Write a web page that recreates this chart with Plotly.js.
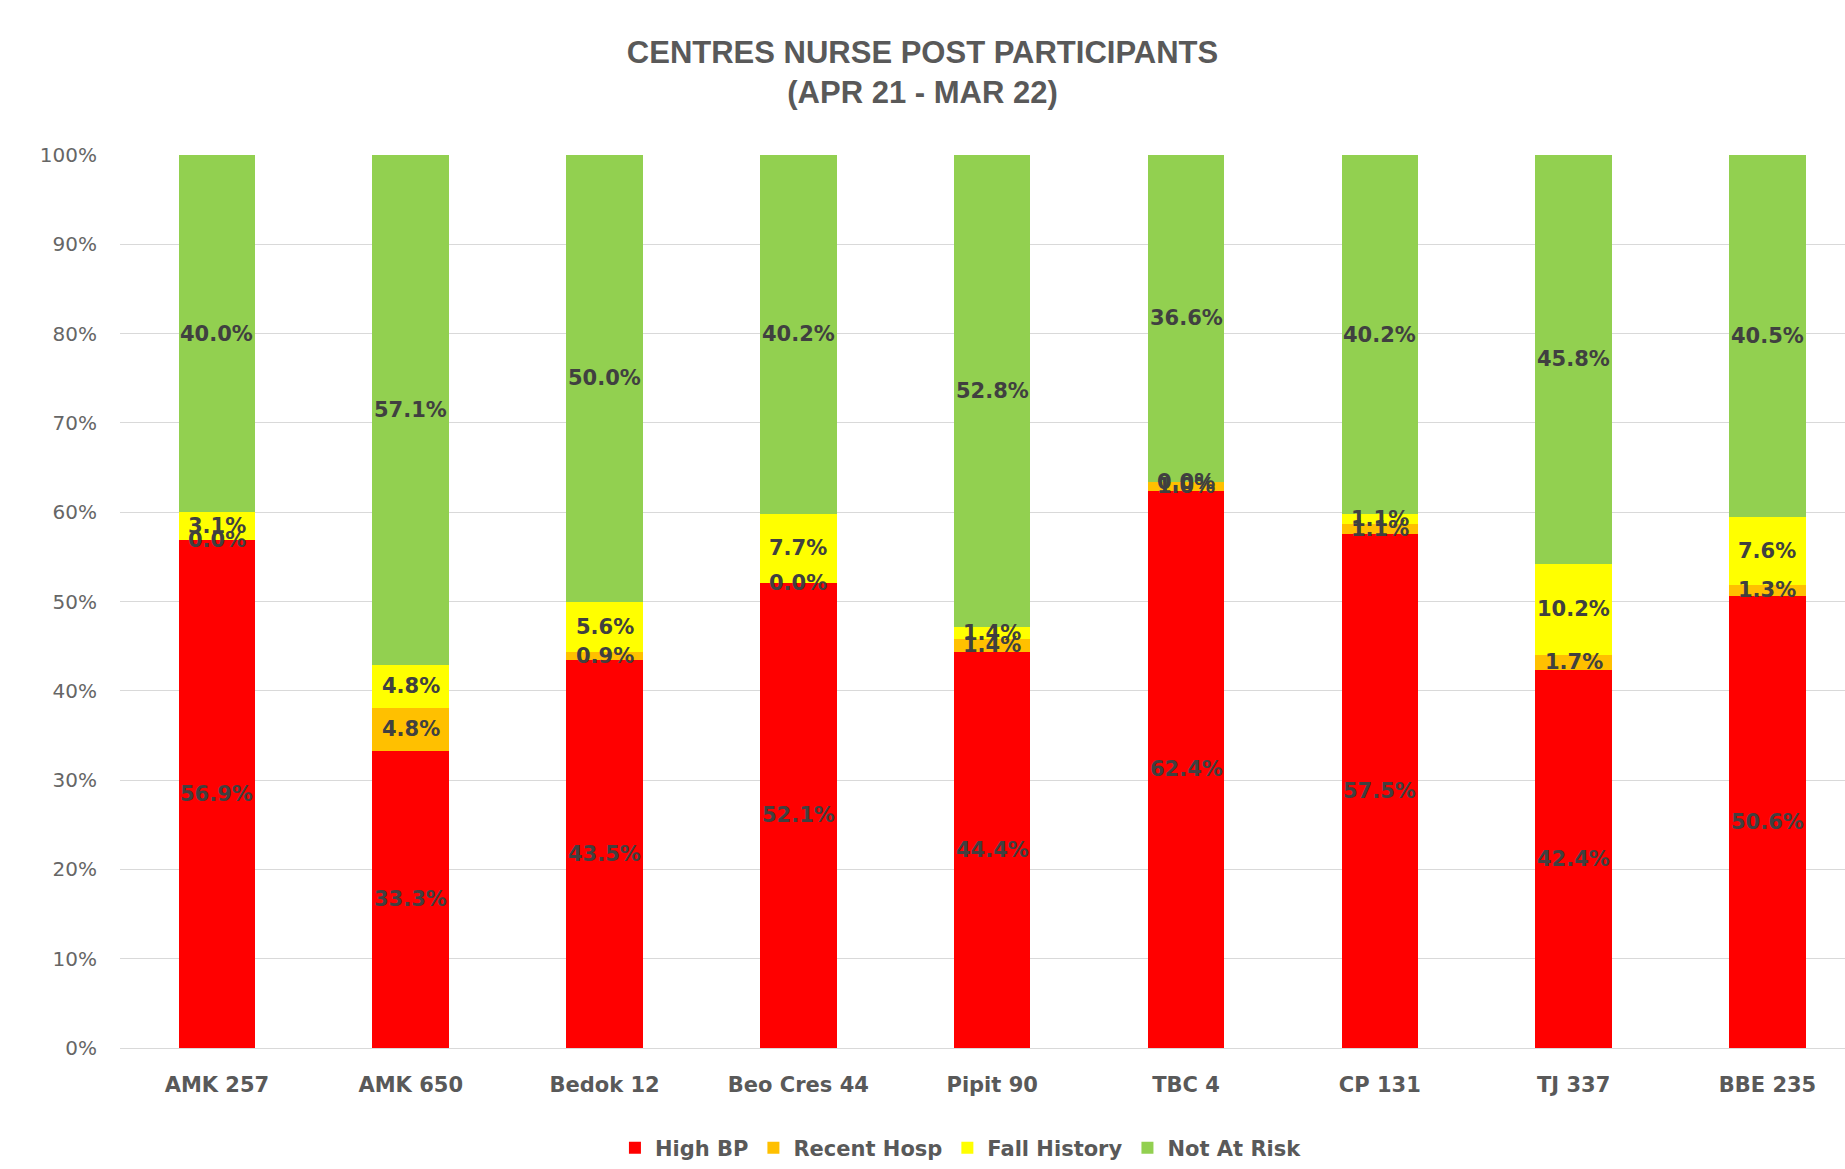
<!DOCTYPE html>
<html>
<head>
<meta charset="utf-8">
<script src="https://cdn.plot.ly/plotly-3.0.1.min.js"></script>
<style>html,body{margin:0;padding:0;background:#fff;}#chart{width:1845px;height:1169px;}</style>
</head>
<body>
<div id="chart"></div>
<script>
const centres = ["AMK 257", "AMK 650", "Bedok 12", "Beo Cres 44", "Pipit 90", "TBC 4", "CP 131", "TJ 337", "BBE 235"];
const highBP      = [56.9, 33.3, 43.5, 52.1, 44.4, 62.4, 57.5, 42.4, 50.6];
const recentHosp  = [0.0, 4.8, 0.9, 0.0, 1.4, 1.0, 1.1, 1.7, 1.3];
const fallHistory = [3.1, 4.8, 5.6, 7.7, 1.4, 0.0, 1.1, 10.2, 7.6];
const notAtRisk   = [40.0, 57.1, 50.0, 40.2, 52.8, 36.6, 40.2, 45.8, 40.5];
const seriesNames = ["High BP", "Recent Hosp", "Fall History", "Not At Risk"];
const yTickVals = [0, 10, 20, 30, 40, 50, 60, 70, 80, 90, 100];
const yTickText = ["0%", "10%", "20%", "30%", "40%", "50%", "60%", "70%", "80%", "90%", "100%"];

const colors = ["#FF0000", "#FFC000", "#FFFF00", "#92D050"];
const allSeries = [highBP, recentHosp, fallHistory, notAtRisk];

const traces = allSeries.map((vals, i) => ({
  type: "bar",
  name: seriesNames[i],
  x: centres,
  y: vals,
  marker: {color: colors[i], line: {width: 0}},
  hoverinfo: "skip"
}));

// Data labels centred in each stacked segment (100% stacked, so normalised)
const labelFont = {family: "DejaVu Sans", size: 21, color: "#404040", weight: "bold"};
const annotations = [];
centres.forEach((c, j) => {
  const total = allSeries.reduce((s, arr) => s + arr[j], 0);
  let cum = 0;
  allSeries.forEach((arr) => {
    const v = arr[j];
    const mid = (cum + v / 2) / total * 100;
    annotations.push({
      x: c, y: mid, xref: "x", yref: "y",
      text: "<b>" + v.toFixed(1) + "%</b>",
      showarrow: false,
      font: labelFont,
      xanchor: "center", yanchor: "middle"
    });
    cum += v;
  });
});

const layout = {
  width: 1845,
  height: 1169,
  barmode: "stack",
  barnorm: "percent",
  bargap: 0.605,
  paper_bgcolor: "#ffffff",
  plot_bgcolor: "#ffffff",
  margin: {l: 120, r: 0, t: 155, b: 121, pad: 0},
  annotations: annotations,
  title: {
    text: "<b>CENTRES NURSE POST PARTICIPANTS<br>(APR 21 - MAR 22)</b>",
    font: {family: "Liberation Sans Narrow, Arial Narrow, sans-serif", size: 31, color: "#595959"},
    x: 0.5, xref: "container", xanchor: "center",
    y: 1 - 63 / 1169, yref: "container", yanchor: "middle"
  },
  xaxis: {
    type: "category",
    range: [-0.5, 8.4],
    showgrid: false,
    showline: true,
    linecolor: "#d9d9d9",
    linewidth: 1,
    ticks: "",
    ticklabelstandoff: 18,
    tickfont: {family: "DejaVu Sans", size: 21, color: "#595959", weight: "bold"},
    fixedrange: true
  },
  yaxis: {
    range: [0, 100],
    tickvals: yTickVals,
    ticktext: yTickText,
    showgrid: true,
    gridcolor: "#d9d9d9",
    gridwidth: 1,
    zeroline: false,
    showline: false,
    ticks: "",
    ticklabelstandoff: 22,
    tickfont: {family: "DejaVu Sans", size: 20, color: "#666666"},
    fixedrange: true
  },
  legend: {
    orientation: "h",
    x: 0.4875, xanchor: "center",
    y: -0.112, yanchor: "middle",
    font: {family: "DejaVu Sans", size: 21, color: "#595959", weight: "bold"},
    traceorder: "normal",
    itemwidth: 30,
    itemsizing: "constant"
  },
  showlegend: true
};

Plotly.newPlot("chart", traces, layout, {displayModeBar: false, staticPlot: true});
</script>
</body>
</html>
